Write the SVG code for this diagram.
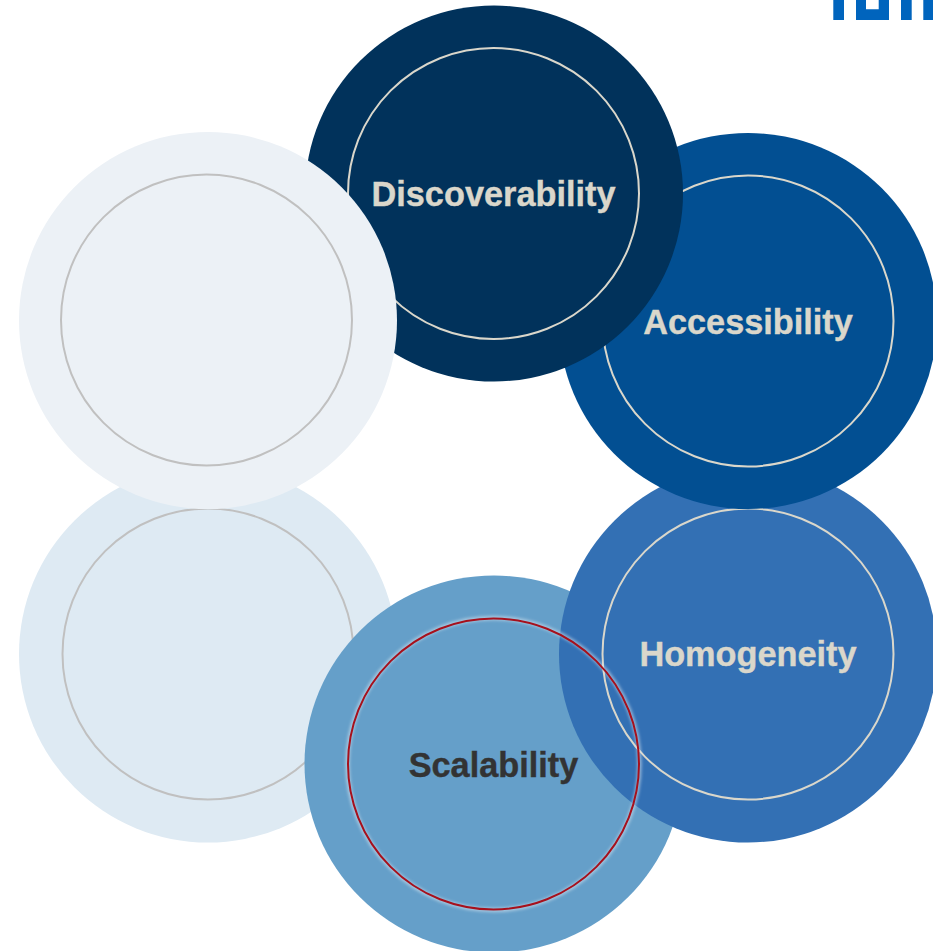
<svg xmlns="http://www.w3.org/2000/svg" width="933" height="951" viewBox="0 0 933 951">
<style>
.ring{fill:none;stroke-width:2}
.light{stroke:#dad7cb}
.grey{stroke:#c0c0c0}
text{font-family:"Liberation Sans",Arial,sans-serif;font-weight:700;font-size:34.3px;text-anchor:middle;fill:#dad7cb;stroke:#dad7cb;stroke-width:.4}
</style>
<defs>
<filter id="glow" x="-10%" y="-10%" width="120%" height="120%"><feGaussianBlur stdDeviation="1.5"/></filter>
</defs>
<rect width="933" height="951" fill="#fff"/>
<g id="logo" fill="#0064bd">
<rect x="833.3" y="0" width="10.7" height="20"/>
<path d="M856 0H866V9.3H878.7V0H889V20H856Z"/>
<rect x="901" y="0" width="10.7" height="20"/>
<rect x="923.3" y="0" width="9.7" height="20"/>
</g>
<g id="node-blank-bottom">
<ellipse cx="208" cy="654" rx="189" ry="188.5" fill="#deeaf3"/>
<circle class="ring grey" cx="208" cy="654" r="145.5"/>
</g>
<g id="node-scalability-disc">
<ellipse cx="494" cy="764" rx="189.5" ry="188.5" fill="#659fc9"/>
</g>
<g id="node-homogeneity">
<ellipse cx="748" cy="654" rx="189" ry="188.5" fill="#3370b4"/>
<circle class="ring light" cx="748" cy="654" r="145.5"/>
<text x="748" y="666">Homogeneity</text>
</g>
<g id="node-scalability">
<circle cx="493.5" cy="764" r="146" fill="none" stroke="#dbe8f2" stroke-width="4.5" opacity=".55" filter="url(#glow)"/>
<circle class="ring" cx="493.5" cy="764" r="145.5" stroke="#a6101c" stroke-width="2.2"/>
<text x="493.5" y="777" style="fill:#333;stroke:#333">Scalability</text>
</g>
<g id="node-accessibility">
<ellipse cx="748" cy="321" rx="189" ry="188" fill="#024f92"/>
<circle class="ring light" cx="748" cy="321" r="145.5"/>
<text x="748" y="334">Accessibility</text>
</g>
<g id="node-discoverability">
<ellipse cx="494" cy="193.5" rx="189" ry="188" fill="#01325b"/>
<circle class="ring light" cx="493.5" cy="193.5" r="145.5"/>
<text x="493.5" y="206">Discoverability</text>
</g>
<g id="node-blank-top">
<ellipse cx="208" cy="320.5" rx="189" ry="188.5" fill="#ecf1f6"/>
<circle class="ring grey" cx="206.5" cy="320" r="145.5"/>
</g>
<g id="connectors"/>
</svg>
